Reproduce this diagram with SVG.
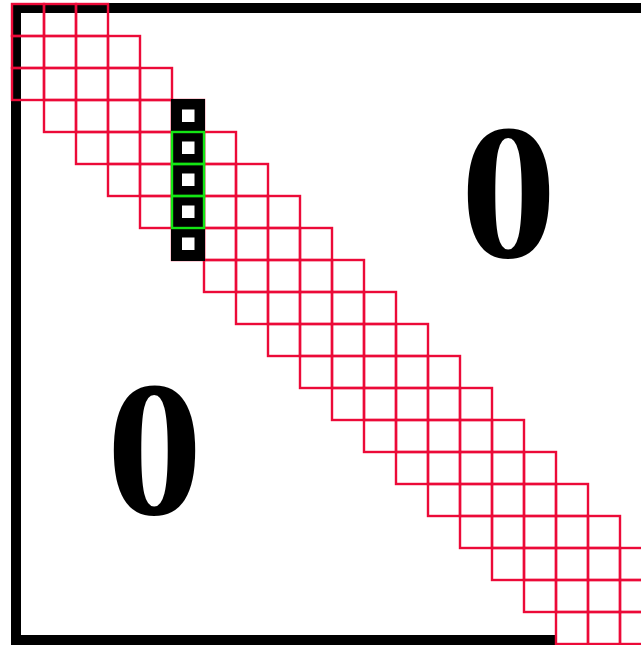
<svg xmlns="http://www.w3.org/2000/svg" width="641" height="645" viewBox="0 0 641 645">
<style>
.frame{fill:none;stroke:#000;stroke-width:10;stroke-linejoin:miter}
.c{fill:none;stroke:#ec0a38;stroke-width:2.4}
.g{fill:none;stroke:#14e614;stroke-width:2.4}
.w{fill:#fff}
.zero{font-family:"Liberation Serif","Times New Roman",serif;font-weight:bold;font-size:192px;text-anchor:middle;fill:#000}
</style>
<rect x="0" y="0" width="641" height="645" fill="#fff"/>
<g id="frame">
<path class="frame" d="M556,640 H16 V8 H660"/>
</g>
<g id="band">
<rect class="c" x="12" y="4" width="32" height="32"/><rect class="c" x="44" y="4" width="32" height="32"/><rect class="c" x="76" y="4" width="32" height="32"/>
<rect class="c" x="12" y="36" width="32" height="32"/><rect class="c" x="44" y="36" width="32" height="32"/><rect class="c" x="76" y="36" width="32" height="32"/><rect class="c" x="108" y="36" width="32" height="32"/>
<rect class="c" x="12" y="68" width="32" height="32"/><rect class="c" x="44" y="68" width="32" height="32"/><rect class="c" x="76" y="68" width="32" height="32"/><rect class="c" x="108" y="68" width="32" height="32"/><rect class="c" x="140" y="68" width="32" height="32"/>
<rect class="c" x="44" y="100" width="32" height="32"/><rect class="c" x="76" y="100" width="32" height="32"/><rect class="c" x="108" y="100" width="32" height="32"/><rect class="c" x="140" y="100" width="32" height="32"/><rect class="c" x="172" y="100" width="32" height="32"/>
<rect class="c" x="76" y="132" width="32" height="32"/><rect class="c" x="108" y="132" width="32" height="32"/><rect class="c" x="140" y="132" width="32" height="32"/><rect class="c" x="172" y="132" width="32" height="32"/><rect class="c" x="204" y="132" width="32" height="32"/>
<rect class="c" x="108" y="164" width="32" height="32"/><rect class="c" x="140" y="164" width="32" height="32"/><rect class="c" x="172" y="164" width="32" height="32"/><rect class="c" x="204" y="164" width="32" height="32"/><rect class="c" x="236" y="164" width="32" height="32"/>
<rect class="c" x="140" y="196" width="32" height="32"/><rect class="c" x="172" y="196" width="32" height="32"/><rect class="c" x="204" y="196" width="32" height="32"/><rect class="c" x="236" y="196" width="32" height="32"/><rect class="c" x="268" y="196" width="32" height="32"/>
<rect class="c" x="172" y="228" width="32" height="32"/><rect class="c" x="204" y="228" width="32" height="32"/><rect class="c" x="236" y="228" width="32" height="32"/><rect class="c" x="268" y="228" width="32" height="32"/><rect class="c" x="300" y="228" width="32" height="32"/>
<rect class="c" x="204" y="260" width="32" height="32"/><rect class="c" x="236" y="260" width="32" height="32"/><rect class="c" x="268" y="260" width="32" height="32"/><rect class="c" x="300" y="260" width="32" height="32"/><rect class="c" x="332" y="260" width="32" height="32"/>
<rect class="c" x="236" y="292" width="32" height="32"/><rect class="c" x="268" y="292" width="32" height="32"/><rect class="c" x="300" y="292" width="32" height="32"/><rect class="c" x="332" y="292" width="32" height="32"/><rect class="c" x="364" y="292" width="32" height="32"/>
<rect class="c" x="268" y="324" width="32" height="32"/><rect class="c" x="300" y="324" width="32" height="32"/><rect class="c" x="332" y="324" width="32" height="32"/><rect class="c" x="364" y="324" width="32" height="32"/><rect class="c" x="396" y="324" width="32" height="32"/>
<rect class="c" x="300" y="356" width="32" height="32"/><rect class="c" x="332" y="356" width="32" height="32"/><rect class="c" x="364" y="356" width="32" height="32"/><rect class="c" x="396" y="356" width="32" height="32"/><rect class="c" x="428" y="356" width="32" height="32"/>
<rect class="c" x="332" y="388" width="32" height="32"/><rect class="c" x="364" y="388" width="32" height="32"/><rect class="c" x="396" y="388" width="32" height="32"/><rect class="c" x="428" y="388" width="32" height="32"/><rect class="c" x="460" y="388" width="32" height="32"/>
<rect class="c" x="364" y="420" width="32" height="32"/><rect class="c" x="396" y="420" width="32" height="32"/><rect class="c" x="428" y="420" width="32" height="32"/><rect class="c" x="460" y="420" width="32" height="32"/><rect class="c" x="492" y="420" width="32" height="32"/>
<rect class="c" x="396" y="452" width="32" height="32"/><rect class="c" x="428" y="452" width="32" height="32"/><rect class="c" x="460" y="452" width="32" height="32"/><rect class="c" x="492" y="452" width="32" height="32"/><rect class="c" x="524" y="452" width="32" height="32"/>
<rect class="c" x="428" y="484" width="32" height="32"/><rect class="c" x="460" y="484" width="32" height="32"/><rect class="c" x="492" y="484" width="32" height="32"/><rect class="c" x="524" y="484" width="32" height="32"/><rect class="c" x="556" y="484" width="32" height="32"/>
<rect class="c" x="460" y="516" width="32" height="32"/><rect class="c" x="492" y="516" width="32" height="32"/><rect class="c" x="524" y="516" width="32" height="32"/><rect class="c" x="556" y="516" width="32" height="32"/><rect class="c" x="588" y="516" width="32" height="32"/>
<rect class="c" x="492" y="548" width="32" height="32"/><rect class="c" x="524" y="548" width="32" height="32"/><rect class="c" x="556" y="548" width="32" height="32"/><rect class="c" x="588" y="548" width="32" height="32"/><rect class="c" x="620" y="548" width="32" height="32"/>
<rect class="c" x="524" y="580" width="32" height="32"/><rect class="c" x="556" y="580" width="32" height="32"/><rect class="c" x="588" y="580" width="32" height="32"/><rect class="c" x="620" y="580" width="32" height="32"/>
<rect class="c" x="556" y="612" width="32" height="32"/><rect class="c" x="588" y="612" width="32" height="32"/><rect class="c" x="620" y="612" width="32" height="32"/>
</g>
<g id="column">
<rect x="171" y="99" width="34" height="162" fill="#000"/>
<rect class="w" x="182" y="109.5" width="12.5" height="12.5"/>
<rect class="w" x="182" y="141.5" width="12.5" height="12.5"/>
<rect class="w" x="182" y="173.5" width="12.5" height="12.5"/>
<rect class="w" x="182" y="205.5" width="12.5" height="12.5"/>
<rect class="w" x="182" y="237.5" width="12.5" height="12.5"/>
<rect class="g" x="172" y="132" width="32" height="32"/>
<rect class="g" x="172" y="164" width="32" height="32"/>
<rect class="g" x="172" y="196" width="32" height="32"/>
</g>
<g id="zero-upper"><text class="zero" x="508.5" y="257">0</text></g>
<g id="zero-lower"><text class="zero" x="154.5" y="514">0</text></g>
</svg>
